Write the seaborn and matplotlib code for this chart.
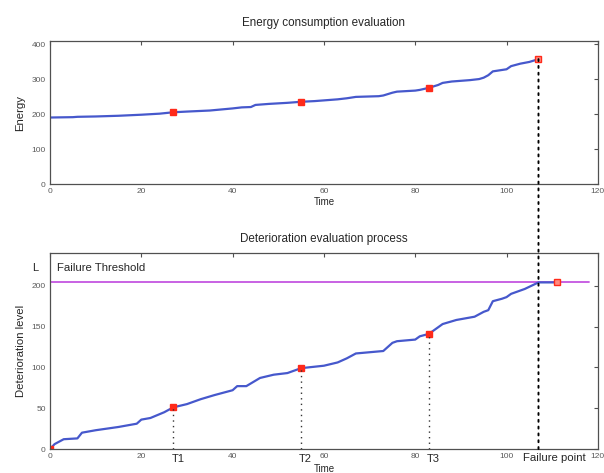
import seaborn as sns
import pandas as pd
from matplotlib import pyplot as plt
from matplotlib.patches import ConnectionPatch

# energy curve
energy_time = [0, 5, 6, 10, 15, 20, 24, 27, 30, 35, 40, 42, 44, 45, 48, 52, 55, 58, 60, 63,
               65, 67, 72, 73, 75, 76, 80, 81, 83, 85, 86, 88, 92, 94, 95, 96, 97, 99, 100, 101,
               103, 105, 107]
energy = [191, 192, 193, 194, 196, 199, 202, 206, 208, 211, 217, 220, 221, 227, 230, 233, 236, 238, 240, 243,
          246, 250, 252, 254, 262, 265, 268, 270, 276, 284, 290, 294, 298, 301, 305, 312, 323, 327, 329, 338,
          345, 350, 358]

# deterioration curve
det_time = [0, 1, 3, 6, 7, 10, 15, 19, 20, 22, 25, 27, 30, 33, 36, 40, 41, 43, 46, 49,
            52, 55, 60, 63, 65, 67, 73, 75, 76, 80, 81, 83, 86, 89, 93, 95, 96, 97, 99, 100,
            101, 104, 107, 111]
deterioration = [0, 6, 12, 13, 20, 23, 27, 31, 36, 38, 45, 51, 55, 61, 66, 72, 77, 77, 87, 91,
                 93, 99, 102, 106, 111, 117, 120, 130, 132, 134, 138, 141, 153, 158, 162, 168, 170, 181, 184, 186,
                 190, 196, 204, 204]

inspect_time = [27, 55, 83]
inspect_labels = ['T1', 'T2', 'T3']
inspect_energy = [206, 236, 276]
inspect_det = [51, 99, 141]

failure_time = 107
failure_energy = 358
failure_mark_time = 111
threshold = 204
threshold_end = 118

blue = '#4658cc'
red = '#ff2a1a'
spine = '#505050'
tick_col = '#5a5a5a'

sns.set_theme(style="white")
plt.rcParams['font.family'] = ['Liberation Sans', 'DejaVu Sans']

fig = plt.figure(figsize=(6.04, 4.73), dpi=100)
ax1 = fig.add_axes([0.0828, 0.6104, 0.907, 0.303])
ax2 = fig.add_axes([0.0828, 0.0507, 0.907, 0.4144])

df_e = pd.DataFrame({'Time': energy_time, 'Energy': energy})
df_d = pd.DataFrame({'Time': det_time, 'Deterioration level': deterioration})

# top: energy
sns.lineplot(data=df_e, x='Time', y='Energy', ax=ax1, color=blue, linewidth=1.6)
ax1.plot(inspect_time, inspect_energy, 's', color=red, markersize=4.5, mec=red)
ax1.plot([failure_time], [failure_energy], 's', color='#ff8a80', markersize=4.5, mec=red, mew=1)
ax1.set_xlim(0, 120)
ax1.set_ylim(0, 410)
ax1.set_yticks([0, 100, 200, 300, 400])
ax1.set_xticks(range(0, 121, 20))
ax1.set_title('Energy consumption evaluation', fontsize=8.4, pad=11)
ax1.set_xlabel('Time', fontsize=7, labelpad=1)
ax1.set_ylabel('Energy', fontsize=8.2, labelpad=5)

# bottom: deterioration
ax2.plot([0, threshold_end], [threshold, threshold], color='#c455e0', linewidth=1.3)
sns.lineplot(data=df_d, x='Time', y='Deterioration level', ax=ax2, color=blue, linewidth=1.6)
ax2.plot([0] + inspect_time, [0] + inspect_det, 's', color=red, markersize=4.5, mec=red)
ax2.plot([failure_mark_time], [threshold], 's', color='#ff8a80', markersize=4.5, mec=red, mew=1)
for t, d in zip(inspect_time, inspect_det):
    ax2.plot([t, t], [0, d], linestyle=(0, (1, 3)), color='#333333', linewidth=1)
ax2.set_xlim(0, 120)
ax2.set_ylim(0, 240)
ax2.set_yticks([0, 50, 100, 150, 200])
ax2.set_xticks(range(0, 121, 20))
ax2.set_title('Deterioration evaluation process', fontsize=8.4, pad=8)
ax2.set_xlabel('Time', fontsize=7, labelpad=3)
ax2.set_ylabel('Deterioration level', fontsize=8.2, labelpad=4)

ax2.text(1.5, 222, 'Failure Threshold', fontsize=8.2, va='center', ha='left')
ax2.text(-2.5, 222, 'L', fontsize=8, va='center', ha='right')
for t, lab in zip(inspect_time, inspect_labels):
    ax2.text(t + 1, -0.025, lab, fontsize=8, ha='center', va='top',
             transform=ax2.get_xaxis_transform())
ax2.text(failure_mark_time - 0.5, -0.02, 'Failure point', fontsize=8.2, ha='center', va='top',
         transform=ax2.get_xaxis_transform())

for ax in (ax1, ax2):
    ax.tick_params(direction='in', top=True, right=True, length=3, width=0.8,
                   color=spine, labelsize=6, labelcolor=tick_col, pad=3)
    for s in ax.spines.values():
        s.set_color(spine)
        s.set_linewidth(0.9)
    ax.grid(False)

# failure line crossing both panels
con = ConnectionPatch(xyA=(failure_time, failure_energy), coordsA=ax1.transData,
                      xyB=(failure_time, 0), coordsB=ax2.transData,
                      linestyle=(0, (1, 2.5)), color='black', linewidth=1.4)
fig.add_artist(con)

fig.savefig('out.png', dpi=100)
